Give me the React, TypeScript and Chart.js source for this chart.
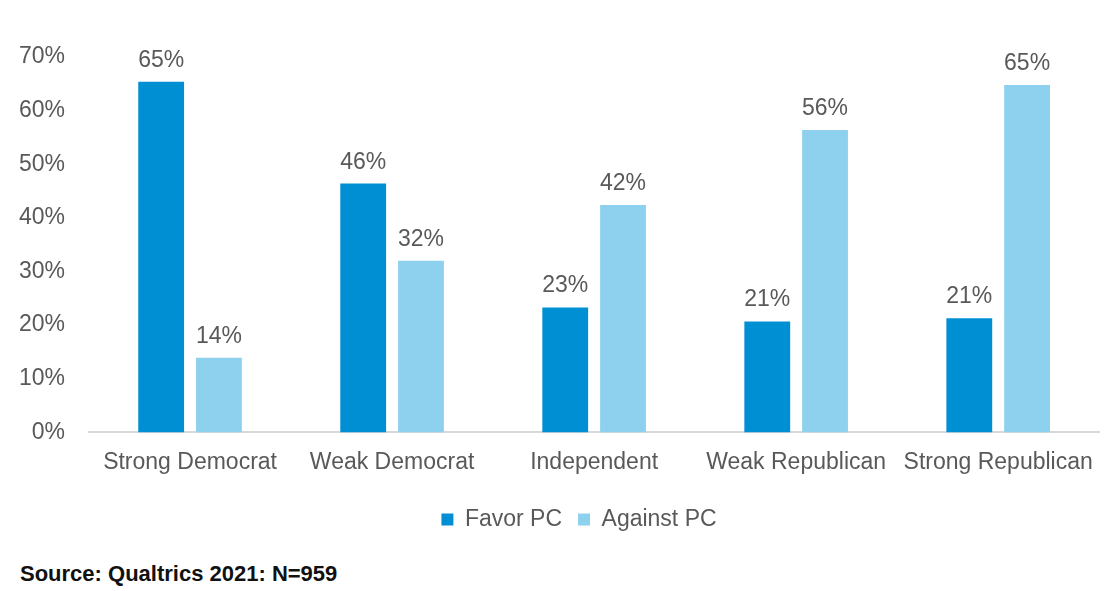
import React, { useEffect, useRef } from "react";
import { Chart, registerables } from "chart.js";

Chart.register(...registerables);

const categories = ["Strong Democrat", "Weak Democrat", "Independent", "Weak Republican", "Strong Republican"];
const favorPC = [65.4, 46.4, 23.3, 20.7, 21.3];
const againstPC = [13.9, 32.0, 42.4, 56.4, 64.8];
const yTicks = [0, 10, 20, 30, 40, 50, 60, 70];
const sourceText = "Source: Qualtrics 2021: N=959";

const FONT = "'Liberation Sans', Arial, Helvetica, sans-serif";
const TEXT = "#595959";

const labelPlugin = {
  id: "barLabels",
  afterLayout(chart: any) {
    if (chart.legend) {
      chart.legend.left += 28;
      chart.legend.right += 28;
    }
  },
  afterDatasetsDraw(chart: any) {
    const ctx = chart.ctx;
    ctx.save();
    ctx.font = `23px ${FONT}`;
    ctx.fillStyle = TEXT;
    ctx.textAlign = "center";
    ctx.textBaseline = "alphabetic";
    chart.data.datasets.forEach((ds: any, di: number) => {
      const meta = chart.getDatasetMeta(di);
      meta.data.forEach((bar: any, i: number) => {
        const v = ds.data[i];
        ctx.fillText(Math.round(v) + "%", bar.x, bar.y - 15);
      });
    });
    ctx.restore();
  },
};

export default function App() {
  const ref = useRef<HTMLCanvasElement>(null);
  useEffect(() => {
    document.body.style.margin = "0";
    const chart = new Chart(ref.current!, {
      type: "bar",
      data: {
        labels: categories,
        datasets: [
          { label: "Favor PC", data: favorPC, backgroundColor: "#008FD3" },
          { label: "Against PC", data: againstPC, backgroundColor: "#8ED1EE" },
        ],
      },
      options: {
        animation: false,
        responsive: false,
        maintainAspectRatio: false,
        layout: { padding: { left: -5, right: 2, top: 57, bottom: 12 } },
        datasets: { bar: { categoryPercentage: 0.572, barPercentage: 0.793 } } as any,
        scales: {
          x: {
            grid: { display: false, drawTicks: false },
            border: { display: true, color: "#D9D9D9", width: 2 },
            ticks: { font: { family: FONT, size: 23 }, color: TEXT, padding: 16, maxRotation: 0, autoSkip: false },
          },
          y: {
            min: 0,
            max: 70,
            afterBuildTicks: (axis: any) => {
              axis.ticks = yTicks.map((v) => ({ value: v }));
            },
            grid: { display: false, drawTicks: false },
            border: { display: false },
            ticks: {
              font: { family: FONT, size: 23 },
              color: TEXT,
              padding: 24,
              callback: (v: any) => v + "%",
            },
          },
        },
        plugins: {
          legend: {
            position: "bottom",
            labels: {
              font: { family: FONT, size: 23 },
              color: TEXT,
              boxWidth: 12,
              boxHeight: 12,
              padding: 16,
            },
          },
          tooltip: { enabled: false },
        },
      },
      plugins: [labelPlugin],
    });
    return () => chart.destroy();
  }, []);
  return (
    <div style={{ position: "fixed", left: 0, top: 0, width: 1109, height: 591, background: "#fff" }}>
      <canvas ref={ref} width={1109} height={553} style={{ display: "block" }} />
      <div
        style={{
          position: "absolute",
          left: 20,
          top: 561,
          fontFamily: FONT,
          fontWeight: "bold",
          fontSize: 22,
          lineHeight: "26px",
          color: "#111",
        }}
      >
        {sourceText}
      </div>
    </div>
  );
}
